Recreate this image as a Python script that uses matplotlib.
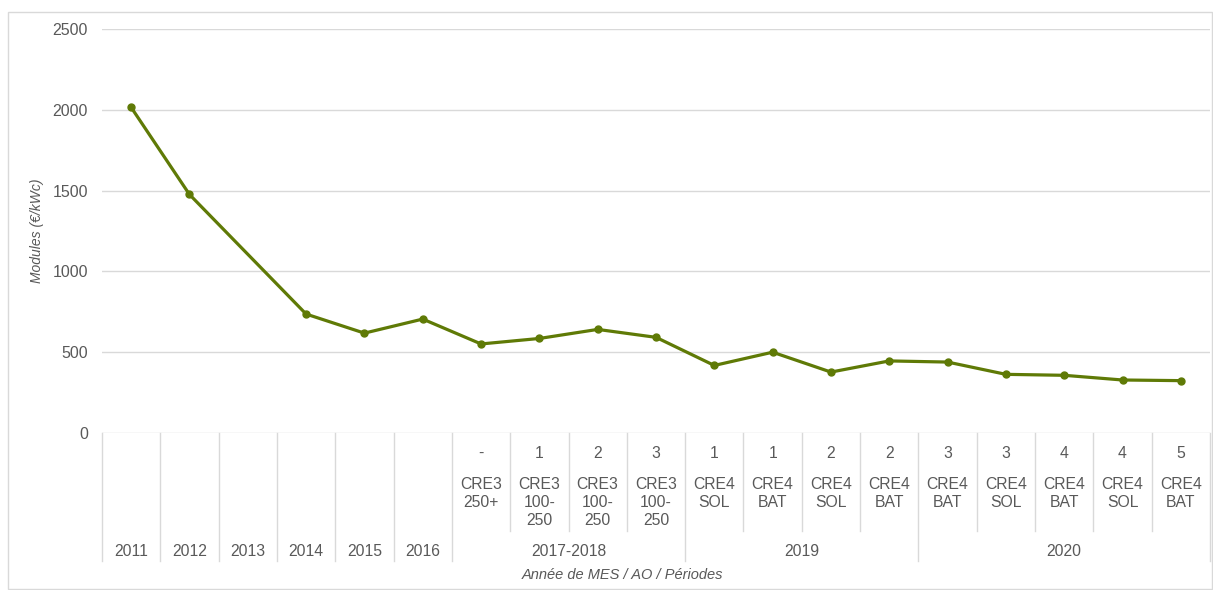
import numpy as np
import matplotlib
matplotlib.use("Agg")
import matplotlib.pyplot as plt
from matplotlib.transforms import blended_transform_factory
from matplotlib.patches import Rectangle

# Data
years = ["2011", "2012", "2013", "2014", "2015", "2016", "2017-2018", "2019", "2020"]
year_sizes = [1, 1, 1, 1, 1, 1, 4, 4, 5]
periods = ["", "", "", "", "", "",
           "-", "1", "2", "3",
           "1", "1", "2", "2",
           "3", "3", "4", "4", "5"]
tenders = ["", "", "", "", "", "",
           "CRE3\n250+", "CRE3\n100-\n250", "CRE3\n100-\n250", "CRE3\n100-\n250",
           "CRE4\nSOL", "CRE4\nBAT", "CRE4\nSOL", "CRE4\nBAT",
           "CRE4\nBAT", "CRE4\nSOL", "CRE4\nBAT", "CRE4\nSOL", "CRE4\nBAT"]
modules = [2015, 1476, np.nan, 736, 618, 705,
           551, 585, 641, 592,
           418, 500, 377, 446,
           439, 363, 357, 328, 324]

W, H = 1213, 590
fig = plt.figure(figsize=(W / 100, H / 100), dpi=100)
plt.rcParams["font.family"] = ["Liberation Sans", "DejaVu Sans"]
text_col = "#595959"
grid_col = "#d9d9d9"
line_col = "#5f7a06"

def fx(px):
    return px / W

def fy(py):
    return 1 - py / H

ax = fig.add_axes([fx(102), fy(433), fx(1210) - fx(102), fy(29) - fy(433)])
n = len(modules)
x = np.arange(n)
y = np.array(modules, dtype=float)
ok = ~np.isnan(y)
ax.plot(x[ok], y[ok], color=line_col, lw=2.3, marker="o", ms=5, zorder=3)

ax.set_xlim(-0.5, n - 0.5)
ax.set_ylim(0, 2500)
ax.set_yticks(np.arange(0, 2501, 500))
ax.tick_params(axis="y", length=0, pad=10, labelsize=11.5, labelcolor=text_col)
ax.set_xticks([])
for s in ax.spines.values():
    s.set_visible(False)
ax.grid(axis="y", color=grid_col, lw=1)
ax.set_axisbelow(True)
ax.set_ylabel("Modules (€/kWc)", style="italic", color=text_col, fontsize=10, labelpad=6)

# multi-level category axis
tr = blended_transform_factory(ax.transData, fig.transFigure)
y_top, y_sub, y_bot = fy(433), fy(531), fy(561)
fs = 11.3
for i in range(n):
    if periods[i]:
        ax.text(i, fy(453), periods[i], transform=tr, ha="center", va="center",
                fontsize=fs, color=text_col, clip_on=False)
        ax.text(i, fy(477), tenders[i], transform=tr, ha="center", va="top",
                fontsize=fs, color=text_col, linespacing=1.25, clip_on=False)

start = 0
edges = [-0.5]
for lab, size in zip(years, year_sizes):
    center = start + (size - 1) / 2
    ax.text(center, fy(551), lab, transform=tr, ha="center", va="center",
            fontsize=fs, color=text_col, clip_on=False)
    # inner separators within the group
    for k in range(1, size):
        xs = start + k - 0.5
        ax.plot([xs, xs], [y_top, y_sub], transform=tr, color=grid_col, lw=1, clip_on=False)
    start += size
    edges.append(start - 0.5)
for xs in edges:
    ax.plot([xs, xs], [y_top, y_bot], transform=tr, color=grid_col, lw=1, clip_on=False)

fig.text(fx(622), fy(575), "Année de MES / AO / Périodes", ha="center", va="center",
         style="italic", fontsize=10.5, color=text_col)

# chart border
fig.patches.append(Rectangle((fx(8), fy(589)), fx(1212) - fx(8), fy(12) - fy(589),
                             transform=fig.transFigure, fill=False, ec=grid_col, lw=1))

fig.savefig("out.png", dpi=100)
